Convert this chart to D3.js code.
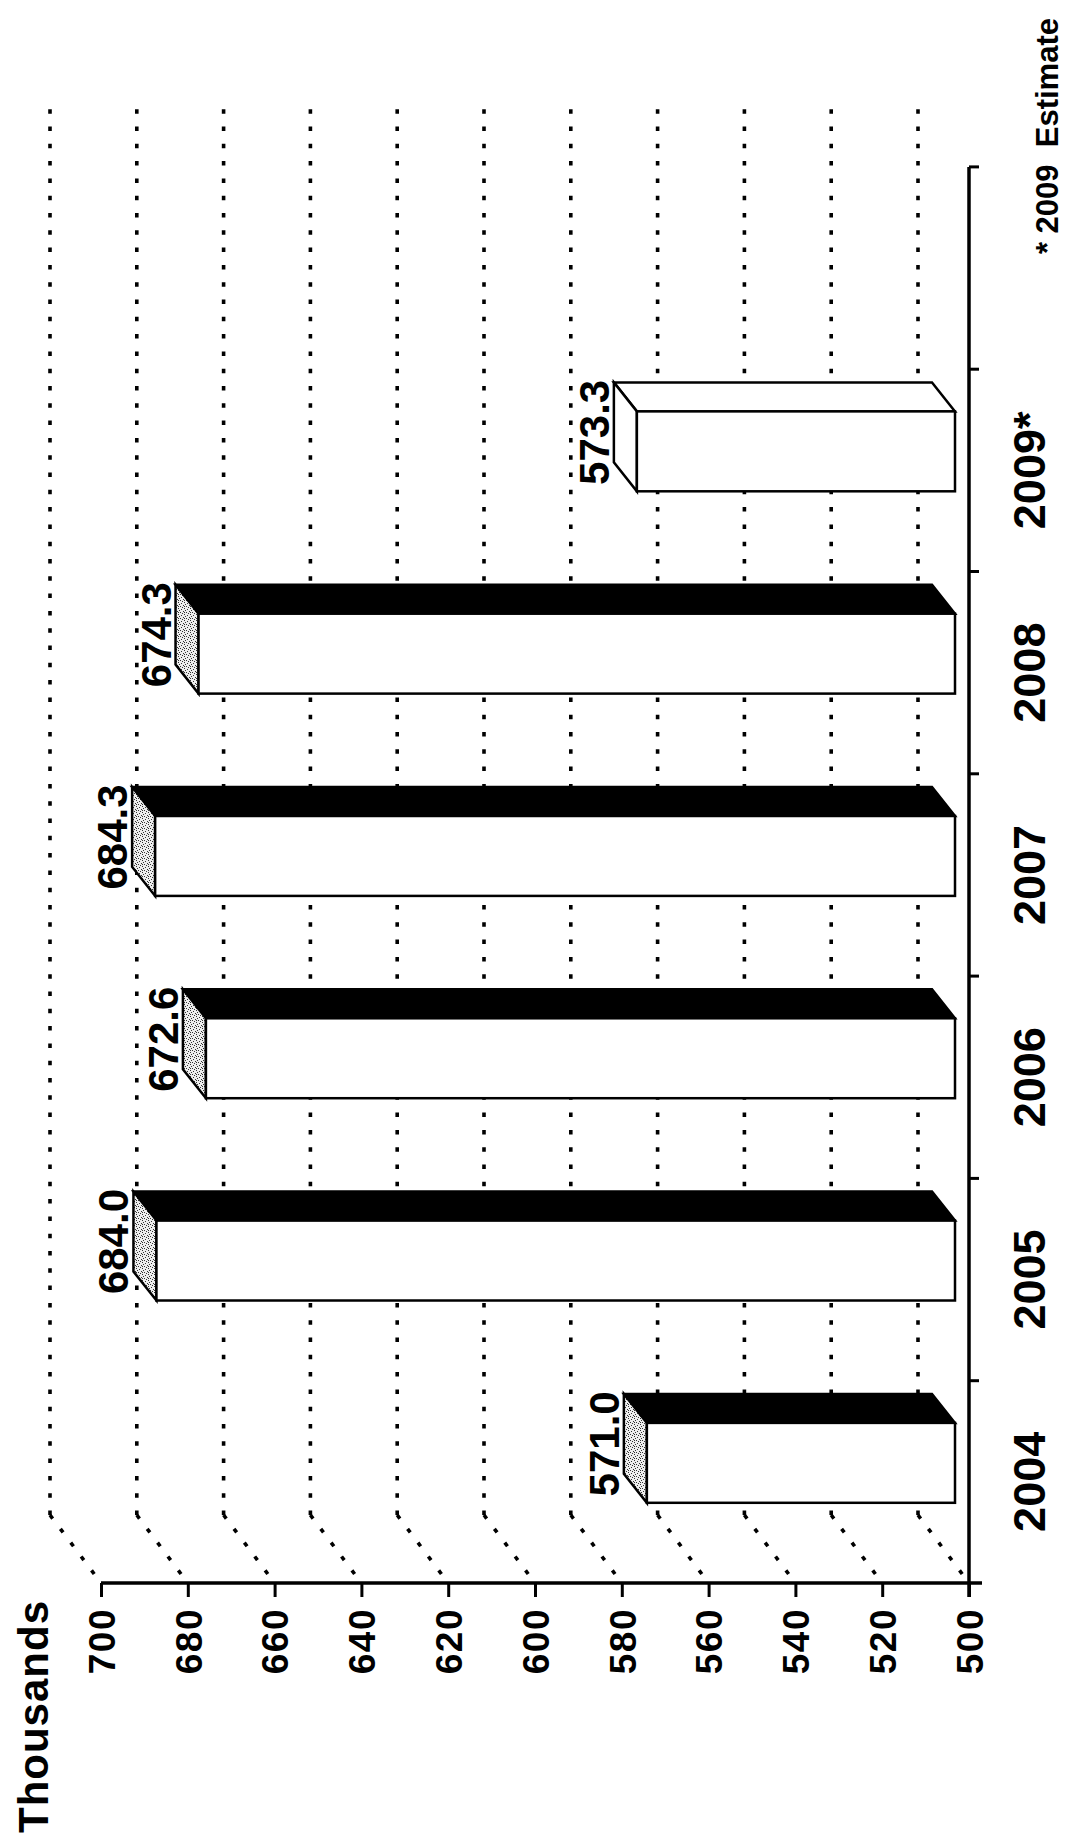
<!DOCTYPE html>
<html>
<head>
<meta charset="utf-8">
<script src="https://cdn.jsdelivr.net/npm/d3@7"></script>
<style>
  html, body { margin: 0; padding: 0; background: #fff; }
  svg { display: block; }
  text { font-family: "Liberation Sans", Arial, Helvetica, sans-serif; font-weight: bold; fill: #000; }
</style>
</head>
<body>
<script>
// Annual totals in thousands; the last year is an estimate
const categories = ["2004", "2005", "2006", "2007", "2008", "2009*"];
const values = [571.0, 684.0, 672.6, 684.3, 674.3, 573.3];
const estimated = [false, false, false, false, false, true];
const valueTicks = [500, 520, 540, 560, 580, 600, 620, 640, 660, 680, 700];
const axisTitle = "Thousands";
const footnote = "* 2009  Estimate";

const W = 1076, H = 1837;

const svg = d3.select("body").append("svg")
  .attr("width", W).attr("height", H);
svg.append("rect").attr("width", W).attr("height", H).attr("fill", "#fff");

// Speckled fill for the column tops
const defs = svg.append("defs");
const pat = defs.append("pattern").attr("id", "stipple")
  .attr("width", 6).attr("height", 6).attr("patternUnits", "userSpaceOnUse");
pat.append("rect").attr("width", 6).attr("height", 6).attr("fill", "#eeeeee");
[[0, 0], [3, 1], [5, 2], [1, 3], [4, 4], [2, 5], [0, 4]].forEach(([px, py]) =>
  pat.append("rect").attr("x", px).attr("y", py).attr("width", 1).attr("height", 1).attr("fill", "#333"));

// The whole chart is laid out as an upright column chart and turned a quarter turn
const g = svg.append("g").attr("transform", `translate(0,${H}) rotate(-90)`);

// Plot frame in the upright frame
const left = 254, floorY = 969, step = 202.3;
const slotCount = categories.length + 1;          // one spare slot at the end of the floor
const right = left + step * slotCount;

const x = d3.scaleBand().domain(categories)
  .range([left, left + step * categories.length]);
const y = d3.scaleLinear().domain([500, 700]).range([floorY, 101]);

// 3-D offsets (depth runs up and to the right)
const WALL = { dx: 68, dy: -51 };
const FRONT = { dx: 19, dy: -14 };
const DEPTH = { dx: 29, dy: -23 };
const barW = x.bandwidth() * 0.395;

// Dotted gridlines on the back wall and across the floor
const grid = g.append("g").attr("fill", "none").attr("stroke", "#000")
  .attr("stroke-width", 3.6).attr("stroke-dasharray", "4.5 12.8");
valueTicks.forEach(v => {
  const yy = y(v);
  grid.append("path")
    .attr("d", `M${left + WALL.dx},${yy + WALL.dy}L${right + WALL.dx},${yy + WALL.dy}`);
  grid.append("path")
    .attr("d", `M${left + WALL.dx},${yy + WALL.dy}L${left},${yy}`);
});

// Value axis
const yAxis = g.append("g").attr("transform", `translate(${left},0)`)
  .call(d3.axisLeft(y).tickValues(valueTicks).tickSize(14).tickSizeOuter(0).tickPadding(11)
    .tickFormat(d3.format("d")));
yAxis.select(".domain").remove();
yAxis.selectAll(".tick line").attr("stroke", "#000").attr("stroke-width", 3);
yAxis.selectAll(".tick text").attr("font-size", 37).attr("dy", "0.36em")
  .attr("letter-spacing", 1.5)
  .attr("font-family", "'Liberation Sans', Arial, sans-serif").attr("font-weight", "bold");

g.append("line").attr("x1", left).attr("x2", left)
  .attr("y1", y(700)).attr("y2", floorY + 13)
  .attr("stroke", "#000").attr("stroke-width", 3.5);

// Category axis
g.append("line").attr("x1", left - 14).attr("x2", right)
  .attr("y1", floorY).attr("y2", floorY)
  .attr("stroke", "#000").attr("stroke-width", 3.5);
const bounds = d3.range(1, slotCount + 1).map(i => left + step * i);
g.append("g").selectAll("line").data(bounds).join("line")
  .attr("x1", d => d).attr("x2", d => d)
  .attr("y1", floorY).attr("y2", floorY + 10)
  .attr("stroke", "#000").attr("stroke-width", 3);

const xAxis = g.append("g").attr("transform", `translate(0,${floorY})`)
  .call(d3.axisBottom(x).tickSize(0).tickPadding(44));
xAxis.select(".domain").remove();
xAxis.selectAll(".tick text").attr("font-size", 45).attr("dy", "0.71em")
  .attr("font-family", "'Liberation Sans', Arial, sans-serif").attr("font-weight", "bold");

// Columns
const bars = g.append("g").selectAll("g").data(categories).join("g");
bars.each(function (cat, i) {
  const sel = d3.select(this);
  const c = x(cat) + x.bandwidth() / 2;
  const a0 = c - barW / 2 + FRONT.dx, a1 = c + barW / 2 + FRONT.dx;
  const bTop = y(values[i]) + FRONT.dy, bBot = y(500) + FRONT.dy;
  const est = estimated[i];
  const apply = (s) => s.attr("stroke", "#000").attr("stroke-width", 2.5).attr("stroke-linejoin", "miter");

  apply(sel.append("polygon")
    .attr("points", [[a1, bTop], [a1, bBot], [a1 + DEPTH.dx, bBot + DEPTH.dy], [a1 + DEPTH.dx, bTop + DEPTH.dy]].join(" "))
    .attr("fill", est ? "#fff" : "#000"));
  apply(sel.append("polygon")
    .attr("points", [[a0, bTop], [a1, bTop], [a1 + DEPTH.dx, bTop + DEPTH.dy], [a0 + DEPTH.dx, bTop + DEPTH.dy]].join(" "))
    .attr("fill", est ? "#fff" : "url(#stipple)"));
  apply(sel.append("rect")
    .attr("x", a0).attr("y", bTop).attr("width", a1 - a0).attr("height", bBot - bTop)
    .attr("fill", "#fff"));

  sel.append("text")
    .attr("x", c + 38).attr("y", y(values[i]) - 42)
    .attr("text-anchor", "middle").attr("font-size", 42)
    .text(d3.format(".1f")(values[i]));
});

// Axis title and footnote
g.append("text").attr("x", 4).attr("y", 48)
  .attr("font-size", 42).attr("letter-spacing", 1).text(axisTitle);

g.append("text").attr("x", 1819).attr("y", 1058)
  .attr("text-anchor", "end").attr("font-size", 31)
  .style("white-space", "pre").text(footnote);
</script>
</body>
</html>
